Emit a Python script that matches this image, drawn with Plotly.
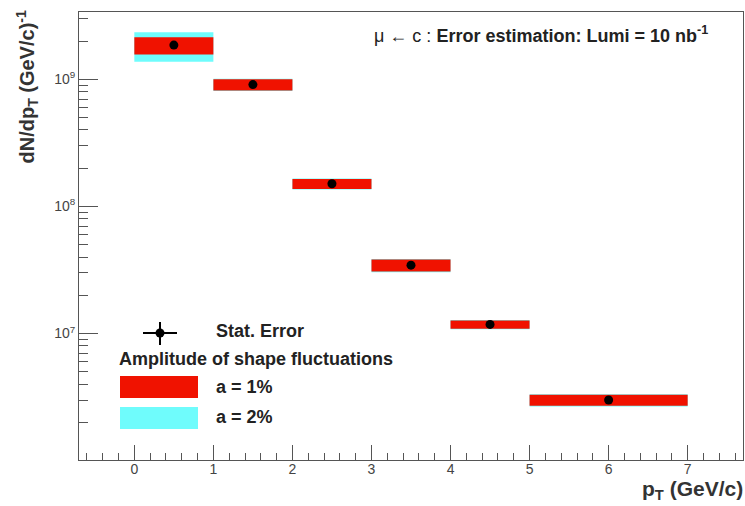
import plotly.graph_objects as go

# ---- data ----
bin_lo = [0, 1, 2, 3, 4, 5]
bin_hi = [1, 2, 3, 4, 5, 7]
yields = [1.86e9, 9.1e8, 1.51e8, 3.45e7, 1.18e7, 3.0e6]
rel_a1 = [0.155, 0.10, 0.09, 0.11, 0.075, 0.10]   # a = 1% band (relative half-height)
rel_a2 = [0.26, 0.11, 0.10, 0.12, 0.085, 0.11]    # a = 2% band
x_tick_vals = [0, 1, 2, 3, 4, 5, 6, 7]
y_tick_vals = [1e7, 1e8, 1e9]
y_tick_text = ["10<sup>7</sup>", "10<sup>8</sup>", "10<sup>9</sup>"]

RED = "#f01200"
CYAN = "#6ffcfc"
FONT = "Liberation Sans"

W, H = 745, 506
L, R, T, B = 79, 2, 12, 46
PW, PH = W - L - R, H - T - B


def px(xp):
    return (xp - L) / PW


def py(yp):
    return (H - B - yp) / PH


fig = go.Figure()


def band(rel, color):
    for lo, hi, v, e in zip(bin_lo, bin_hi, yields, rel):
        fig.add_trace(go.Scatter(
            x=[lo, hi, hi, lo, lo],
            y=[v * (1 - e), v * (1 - e), v * (1 + e), v * (1 + e), v * (1 - e)],
            fill="toself", fillcolor=color, mode="lines",
            line=dict(width=0, color=color), showlegend=False, hoverinfo="skip"))


band(rel_a2, CYAN)
band(rel_a1, RED)

centers = [(a + b) / 2 for a, b in zip(bin_lo, bin_hi)]
fig.add_trace(go.Scatter(x=centers, y=yields, mode="markers",
                         marker=dict(color="black", size=9), showlegend=False))

minor_y = []
for d in [1e6, 1e7, 1e8, 1e9]:
    for k in range(2, 10):
        minor_y.append(k * d)

fig.update_layout(
    width=W, height=H, margin=dict(l=L, r=R, t=T, b=B),
    paper_bgcolor="white", plot_bgcolor="white", showlegend=False,
    font=dict(family=FONT, color="#333"),
    xaxis=dict(range=[-0.7, 7.7], tickvals=x_tick_vals, ticks="inside", ticklen=15,
               tickwidth=1, tickcolor="#555", showline=True, linecolor="#555", mirror=True,
               showgrid=False, zeroline=False, tickfont=dict(size=14, family=FONT, color="#444"),
               ticklabelstandoff=-4,
               minor=dict(dtick=0.2, tick0=0, ticks="inside", ticklen=7, tickcolor="#555", showgrid=False)),
    yaxis=dict(type="log", range=[6.005, 9.53], tickvals=y_tick_vals, ticktext=y_tick_text,
               ticks="inside", ticklen=19, tickwidth=1, tickcolor="#555", showline=True,
               linecolor="#555", mirror=True, showgrid=False, zeroline=False,
               tickfont=dict(size=14, family=FONT, color="#444"),
               minor=dict(tickmode="array", tickvals=minor_y, ticks="inside", ticklen=9,
                          tickcolor="#555", showgrid=False)),
)

TXT = "#222"
ann = []
ann.append(dict(xref="paper", yref="paper", x=px(372), y=py(34), xanchor="left", yanchor="middle",
                text="μ ← c : <b>Error estimation: Lumi = 10 nb<sup>-1</sup></b>", showarrow=False,
                font=dict(size=18, family=FONT, color=TXT)))
ann.append(dict(xref="paper", yref="paper", x=px(27), y=py(9), xanchor="center", yanchor="top",
                text="<b>dN/dp<sub>T</sub> (GeV/c)<sup>-1</sup></b>", textangle=-90, showarrow=False,
                font=dict(size=20, family=FONT, color="#333")))
ann.append(dict(xref="paper", yref="paper", x=px(745), y=py(490), xanchor="right", yanchor="middle",
                text="<b>p<sub>T</sub> (GeV/c)</b>", showarrow=False,
                font=dict(size=21, family=FONT, color="#333")))
# legend texts
ann.append(dict(xref="paper", yref="paper", x=px(214), y=py(331), xanchor="left", yanchor="middle",
                text="<b>Stat. Error</b>", showarrow=False, font=dict(size=18, family=FONT, color=TXT)))
ann.append(dict(xref="paper", yref="paper", x=px(117), y=py(359), xanchor="left", yanchor="middle",
                text="<b>Amplitude of shape fluctuations</b>", showarrow=False,
                font=dict(size=18, family=FONT, color=TXT)))
ann.append(dict(xref="paper", yref="paper", x=px(214), y=py(387), xanchor="left", yanchor="middle",
                text="<b>a = 1%</b>", showarrow=False, font=dict(size=18, family=FONT, color=TXT)))
ann.append(dict(xref="paper", yref="paper", x=px(214), y=py(417), xanchor="left", yanchor="middle",
                text="<b>a = 2%</b>", showarrow=False, font=dict(size=18, family=FONT, color=TXT)))
fig.update_layout(annotations=ann)

shapes = []
shapes.append(dict(type="rect", xref="paper", yref="paper", x0=px(120), x1=px(198), y0=py(376), y1=py(398),
                   fillcolor=RED, line=dict(width=0), layer="above"))
shapes.append(dict(type="rect", xref="paper", yref="paper", x0=px(120), x1=px(198), y0=py(407), y1=py(429),
                   fillcolor=CYAN, line=dict(width=0), layer="above"))
shapes.append(dict(type="line", xref="paper", yref="paper", x0=px(143), x1=px(177), y0=py(333), y1=py(333),
                   line=dict(color="black", width=2)))
shapes.append(dict(type="line", xref="paper", yref="paper", x0=px(160), x1=px(160), y0=py(322), y1=py(345),
                   line=dict(color="black", width=2)))
shapes.append(dict(type="circle", xref="paper", yref="paper", x0=px(155.5), x1=px(164.5), y0=py(328.5), y1=py(337.5),
                   fillcolor="black", line=dict(width=0)))
fig.update_layout(shapes=shapes)

fig.write_html("out.html")
